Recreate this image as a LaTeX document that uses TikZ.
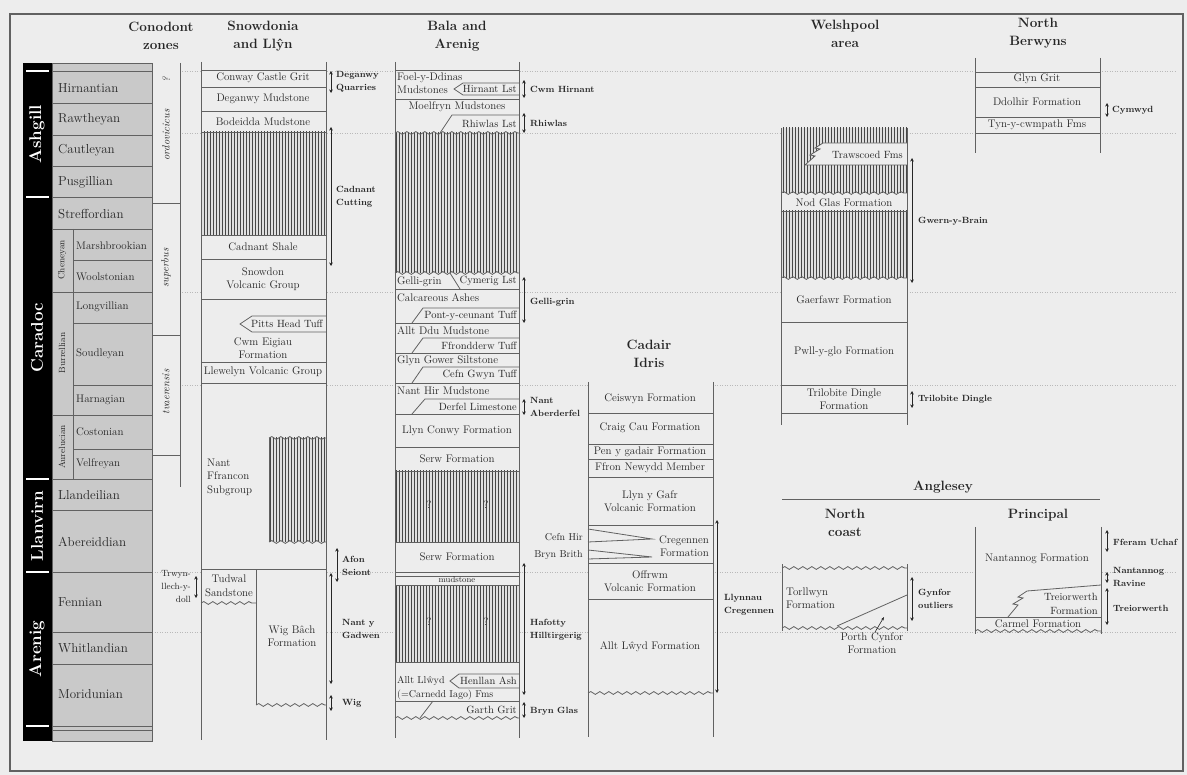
\documentclass[tikz,border=0pt]{standalone}
\usetikzlibrary{arrows.meta,patterns,decorations.pathmorphing}

\definecolor{bg}{gray}{0.93}
\definecolor{ink}{gray}{0.15}
\definecolor{rule}{gray}{0.38}
\definecolor{stagefill}{gray}{0.79}

\tikzset{
	col/.style={draw=rule, line width=0.8pt},
	hatch/.style={preaction={fill=gray!25}, pattern=vertical lines, pattern color=gray!55!black},
	wavy/.style={draw=rule, line width=0.8pt, decorate, decoration={snake, amplitude=1.4pt, segment length=9pt}},
	guide/.style={draw=gray!55, line width=0.5pt, dash pattern=on 1pt off 1.5pt},
	spanbar/.style={draw=ink, line width=0.7pt, arrows={Stealth[length=3.5pt,width=3.5pt]-Stealth[length=3.5pt,width=3.5pt]}},
	fm/.style={font=\fontsize{11}{13.5}\selectfont, text=ink, inner sep=0pt, align=center},
	lfm/.style={fm, anchor=west, align=left},
	rfm/.style={fm, anchor=east, align=right},
	wedge/.style={rfm, font=\fontsize{10.5}{12}\selectfont},
	stage/.style={font=\fontsize{13}{14}\selectfont, text=ink, inner sep=0pt, anchor=west},
	substage/.style={stage, font=\fontsize{11}{12}\selectfont},
	series/.style={font=\fontsize{17}{17}\selectfont\bfseries, text=white, rotate=90, inner sep=0pt},
	subseries/.style={font=\fontsize{9}{10}\selectfont, text=ink, rotate=90, inner sep=0pt},
	zone/.style={font=\fontsize{10.5}{12}\selectfont\itshape, text=ink, rotate=90, inner sep=0pt},
	head/.style={font=\fontsize{13.5}{18}\selectfont\bfseries, text=ink, align=center, inner sep=0pt},
	site/.style={font=\fontsize{9}{13}\selectfont\bfseries, text=ink, anchor=west, align=left, inner sep=0pt},
	side/.style={font=\fontsize{10}{13}\selectfont, text=ink, anchor=east, align=right, inner sep=0pt},
}

\begin{document}
\begin{tikzpicture}[x=1pt, y=-1pt]
	\useasboundingbox (0,0) rectangle (1187,775);
	% Background and frame
	\fill[bg] (0,0) rectangle (1187,775);
	\draw[rule, line width=1.6pt] (10,14) rectangle (1183,771);

	% Dotted guide lines
	\foreach \y in {71,133,292,385,572,632}
		\draw[guide] (152,\y) -- (1177,\y);

	% Column headings
	\node[head] (conhead)  at (161,36)  {Conodont\\zones};
	\node[head] (snowhead) at (263,36)  {Snowdonia\\and Ll\^yn};
	\node[head] (balahead) at (457,36)  {Bala and\\Arenig};
	\node[head] (welshead) at (845,34)  {Welshpool\\area};
	\node[head] (berwhead) at (1038,33) {North\\Berwyns};
	\node[head] (cadhead)  at (649,354) {Cadair\\Idris};

	% Series and stages
	\fill[black] (23,63) rectangle (52,741);
	\fill[stagefill] (52,63) rectangle (152,741);
	\draw[col] (52,63) rectangle (152,741);
	\foreach \y in {71,103,135,166,197,229,292,415,479,510,572,632,664,726,730}
		\draw[col] (52,\y) -- (152,\y);
	\foreach \y in {260,323,385,449}
		\draw[col] (73,\y) -- (152,\y);
	\draw[col] (73,229) -- (73,479);
	\foreach \y in {71,197,479,572,726}
		\draw[white, line width=1.2pt] (26,\y) -- (49,\y);
	\node[series] (ashgill)  at (37,134) {Ashgill};
	\node[series] (caradoc)  at (37,338) {Caradoc};
	\node[series] (llanvirn) at (37,526) {Llanvirn};
	\node[series] (arenig)   at (37,649) {Arenig};
	\node[subseries] (cheneyan)   at (62,260) {Cheneyan};
	\node[subseries] (burrellian) at (62,353) {Burrellian};
	\node[subseries] (aurelucian) at (62,447) {Aurelucian};
	\node[stage]    (hirnantian)    at (58,88)  {Hirnantian};
	\node[stage]    (rawtheyan)     at (58,119) {Rawtheyan};
	\node[stage]    (cautleyan)     at (58,150) {Cautleyan};
	\node[stage]    (pusgillian)    at (58,182) {Pusgillian};
	\node[stage]    (streffordian)  at (58,214) {Streffordian};
	\node[substage] (marshbrookian) at (76,246) {Marshbrookian};
	\node[substage] (woolstonian)   at (76,277) {Woolstonian};
	\node[substage] (longvillian)   at (76,307) {Longvillian};
	\node[substage] (soudleyan)     at (76,354) {Soudleyan};
	\node[substage] (harnagian)     at (76,400) {Harnagian};
	\node[substage] (costonian)     at (76,432) {Costonian};
	\node[substage] (velfreyan)     at (76,464) {Velfreyan};
	\node[stage]    (llandeilian)   at (58,495) {Llandeilian};
	\node[stage]    (abereiddian)   at (58,542) {Abereiddian};
	\node[stage]    (fennian)       at (58,602) {Fennian};
	\node[stage]    (whitlandian)   at (58,648) {Whitlandian};
	\node[stage]    (moridunian)    at (58,694) {Moridunian};

	% Conodont zones
	\fill[bg] (153,63) rectangle (180,487);
	\draw[col] (180,63) -- (180,487);
	\foreach \y in {203,335,455}
		\draw[col] (152,\y) -- (180,\y);
	\node[zone] (zonequery)   at (166,80)  {?};
	\node[zone] (ordovicicus) at (166,135) {ordovicicus};
	\node[zone] (superbus)    at (166,268) {superbus};
	\node[zone] (tvaerensis)  at (166,392) {tvaerensis};

	% Snowdonia and Llyn
	\fill[bg] (201,62) rectangle (326,740);
	\fill[hatch] (201,132) rectangle (326,235);
	\fill[hatch] (269,438) rectangle (326,542);
	\draw[col] (201,62) -- (201,740);
	\draw[col] (326,62) -- (326,740);
	\foreach \y in {70,87,111,132,235,259,299,362,383,569}
		\draw[col] (201,\y) -- (326,\y);
	\draw[col] (326,316) -- (252,316) -- (240,324) -- (252,332) -- (326,332);
	\draw[col] (269,438) -- (269,542);
	\draw[wavy] (269,438) -- (326,438);
	\draw[wavy] (269,542) -- (326,542);
	\draw[col] (256,569) -- (256,705);
	\draw[wavy] (201,603) -- (256,603);
	\draw[wavy] (256,705) -- (326,705);
	\node[fm]    (conwaygrit)  at (263,78)  {Conway Castle Grit};
	\node[fm]    (deganwymud)  at (263,99)  {Deganwy Mudstone};
	\node[fm]    (bodeidda)    at (263,122) {Bodeidda Mudstone};
	\node[fm]    (cadnantsh)   at (263,247) {Cadnant Shale};
	\node[fm]    (snowdonvg)   at (263,279) {Snowdon\\Volcanic Group};
	\node[wedge] (pittshead)   at (323,324) {Pitts Head Tuff};
	\node[fm]    (cwmeigiau)   at (263,348) {Cwm Eigiau\\Formation};
	\node[fm]    (llewelynvg)  at (263,372) {Llewelyn Volcanic Group};
	\node[lfm]   (nantffrancon) at (207,477) {Nant\\Ffrancon\\Subgroup};
	\node[fm]    (tudwal)      at (229,586) {Tudwal\\Sandstone};
	\node[fm]    (wigbach)     at (292,636) {Wig B\^ach\\Formation};
	% Snowdonia localities
	\draw[spanbar] (331,71) -- (331,93);
	\node[site] (deganwyq) at (336,82) {Deganwy\\Quarries};
	\draw[spanbar] (331,127) -- (331,266);
	\node[site] (cadnantcut) at (336,197) {Cadnant\\Cutting};
	\draw[spanbar] (337,548) -- (337,582);
	\node[site] (afonseiont) at (342,566) {Afon\\Seiont};
	\draw[spanbar] (331,573) -- (331,684);
	\node[site] (nantgadwen) at (342,629) {Nant y\\Gadwen};
	\draw[spanbar] (331,695) -- (331,711);
	\node[site] (wig) at (342,703) {Wig};
	\draw[spanbar] (196,576) -- (196,598);
	\node[side, font=\fontsize{9}{13}\selectfont] (trwyn) at (191,587) {Trwyn-\\llech-y-\\doll};

	% Bala and Arenig
	\fill[bg] (395,62) rectangle (519,738);
	\fill[hatch] (395,133) rectangle (519,273);
	\fill[hatch] (395,471) rectangle (519,542);
	\fill[hatch] (395,585) rectangle (519,662);
	\draw[col] (395,62) -- (395,738);
	\draw[col] (519,62) -- (519,738);
	\foreach \y in {70,99,289,323,353,383,414,447,471,542,572,576,585,662,701}
		\draw[col] (395,\y) -- (519,\y);
	\foreach \y in {133,273,718}
		\draw[wavy] (395,\y) -- (519,\y);
	\draw[col] (519,83) -- (463,83) -- (454,89) -- (463,95) -- (519,95);
	\draw[col] (440,133) -- (452,115) -- (519,115);
	\draw[col] (450,273) -- (460,289);
	\draw[col] (412,323) -- (423,308) -- (519,308);
	\draw[col] (412,353) -- (423,338) -- (519,338);
	\draw[col] (412,383) -- (423,367) -- (519,367);
	\draw[col] (412,414) -- (425,399) -- (519,399);
	\draw[col] (519,674) -- (459,674) -- (450,681) -- (459,688) -- (519,688);
	\draw[col] (420,718) -- (433,701);
	\node[lfm]   (foelddinas) at (397,83)  {Foel-y-Ddinas\\Mudstones};
	\node[wedge] (hirnantlst) at (517,89)  {Hirnant Lst};
	\node[fm]    (moelfryn)   at (457,107) {Moelfryn Mudstones};
	\node[wedge] (rhiwlaslst) at (517,124) {Rhiwlas Lst};
	\node[lfm]   (gelligrinfm) at (397,282) {Gelli-grin};
	\node[wedge] (cymeriglst) at (517,281) {Cymerig Lst};
	\node[lfm]   (calcashes)  at (397,298) {Calcareous Ashes};
	\node[wedge] (pontceunant) at (517,316) {Pont-y-ceunant Tuff};
	\node[lfm]   (alltddu)    at (397,331) {Allt Ddu Mudstone};
	\node[wedge] (ffrondderw) at (517,346) {Ffrondderw Tuff};
	\node[lfm]   (glyngower)  at (397,361) {Glyn Gower Siltstone};
	\node[wedge] (cefngwyn)   at (517,375) {Cefn Gwyn Tuff};
	\node[lfm]   (nanthir)    at (397,391) {Nant Hir Mudstone};
	\node[wedge] (derfel)     at (517,407) {Derfel Limestone};
	\node[fm]    (llynconwy)  at (457,431) {Llyn Conwy Formation};
	\node[fm]    (serwupper)  at (457,459) {Serw Formation};
	\node[fm]    (queryA)     at (429,505) {?};
	\node[fm]    (queryB)     at (486,505) {?};
	\node[fm]    (serwlower)  at (457,557) {Serw Formation};
	\node[fm, font=\fontsize{8.5}{10}\selectfont] (mudstone) at (457,580) {mudstone};
	\node[fm]    (queryC)     at (429,622) {?};
	\node[fm]    (queryD)     at (486,622) {?};
	\node[lfm, font=\fontsize{10}{13.5}\selectfont] (alltllwyd) at (397,688) {Allt Ll\^wyd\\(=Carnedd Iago) Fms};
	\node[wedge] (henllan)    at (517,681) {Henllan Ash};
	\node[wedge] (garthgrit)  at (517,710) {Garth Grit};
	% Bala localities
	\draw[spanbar] (524,80) -- (524,98);
	\node[site] (cwmhirnant) at (530,89) {Cwm Hirnant};
	\draw[spanbar] (524,113) -- (524,133);
	\node[site] (rhiwlas) at (530,123) {Rhiwlas};
	\draw[spanbar] (524,277) -- (524,323);
	\node[site] (gelligrin) at (530,302) {Gelli-grin};
	\draw[spanbar] (524,399) -- (524,415);
	\node[site] (aberderfel) at (530,407) {Nant\\Aberderfel};
	\draw[spanbar] (524,563) -- (524,695);
	\node[site] (hafotty) at (530,630) {Hafotty\\Hilltirgerig};
	\draw[spanbar] (524,702) -- (524,718);
	\node[site] (brynglas) at (530,711) {Bryn Glas};

	% Cadair Idris
	\fill[bg] (588,382) rectangle (713,737);
	\draw[col] (588,382) -- (588,737);
	\draw[col] (713,382) -- (713,737);
	\foreach \y in {413,444,459,477,525,563,599}
		\draw[col] (588,\y) -- (713,\y);
	\draw[wavy] (588,693) -- (713,693);
	\draw[col] (588,529) -- (652,539) -- (588,542);
	\draw[col] (588,550) -- (652,557) -- (588,559);
	\node[fm]  (ceiswyn)   at (650,399) {Ceiswyn Formation};
	\node[fm]  (craigcau)  at (650,428) {Craig Cau Formation};
	\node[fm]  (penygadair) at (650,452) {Pen y gadair Formation};
	\node[fm]  (ffronnewydd) at (650,468) {Ffron Newydd Member};
	\node[fm]  (llynygafr) at (650,501) {Llyn y Gafr\\Volcanic Formation};
	\node[rfm] (cregennen) at (709,546) {Cregennen\\Formation};
	\node[fm]  (offrwm)    at (650,581) {Offrwm\\Volcanic Formation};
	\node[fm]  (alltlwyd)  at (650,647) {Allt L\^wyd Formation};
	\node[side] (cefnhir)   at (583,537) {Cefn Hir};
	\node[side] (brynbrith) at (583,555) {Bryn Brith};
	\draw[spanbar] (717,520) -- (717,693);
	\node[site] (llynnau) at (724,605) {Llynnau\\Cregennen};

	% Welshpool area
	\fill[bg] (781,128) rectangle (907,425);
	\fill[hatch] (781,128) rectangle (907,193);
	\fill[hatch] (781,211) rectangle (907,278);
	\fill[bg] (907,143) -- (823,143) -- (815,148) -- (820,149) -- (810,155) -- (815,156) -- (805,165) -- (907,165) -- cycle;
	\draw[col] (907,143) -- (823,143) -- (815,148) -- (820,149) -- (810,155) -- (815,156) -- (805,165) -- (907,165);
	\draw[col] (781,128) -- (781,425);
	\draw[col] (907,128) -- (907,425);
	\draw[wavy] (781,193) -- (907,193);
	\draw[wavy] (781,278) -- (907,278);
	\foreach \y in {211,322,385,413}
		\draw[col] (781,\y) -- (907,\y);
	\node[wedge] (trawscoed) at (903,155) {Trawscoed Fms};
	\node[fm]    (nodglas)   at (844,203) {Nod Glas Formation};
	\node[fm]    (gaerfawr)  at (844,300) {Gaerfawr Formation};
	\node[fm]    (pwllyglo)  at (844,352) {Pwll-y-glo Formation};
	\node[fm]    (trilobitefm) at (844,399) {Trilobite Dingle\\Formation};
	\draw[spanbar] (912,158) -- (912,283);
	\node[site] (gwernybrain) at (918,221) {Gwern-y-Brain};
	\draw[spanbar] (912,391) -- (912,408);
	\node[site] (trilobite) at (918,399) {Trilobite Dingle};

	% North Berwyns
	\fill[bg] (975,58) rectangle (1100,153);
	\draw[col] (975,58) -- (975,153);
	\draw[col] (1100,58) -- (1100,153);
	\foreach \y in {72,87,117,133}
		\draw[col] (975,\y) -- (1100,\y);
	\node[fm] (glyngrit) at (1037,79)  {Glyn Grit};
	\node[fm] (ddolhir)  at (1037,102) {Ddolhir Formation};
	\node[fm] (tynycwmpath) at (1037,125) {Tyn-y-cwmpath Fms};
	\draw[spanbar] (1107,103) -- (1107,117);
	\node[site] (cymwyd) at (1112,110) {Cymwyd};

	% Anglesey
	\node[head] (anglhead) at (943,487) {Anglesey};
	\draw[col] (782,499) -- (1100,499);
	\node[head] (ncoast) at (845,523) {North\\coast};
	\node[head] (parea)  at (1038,523) {Principal\\area};
	% North coast
	\fill[bg] (782,568) rectangle (907,628);
	\draw[col] (782,564) -- (782,631);
	\draw[col] (907,564) -- (907,631);
	\draw[wavy] (782,568) -- (907,568);
	\draw[wavy] (782,628) -- (907,628);
	\draw[col] (837,626) -- (907,595);
	\node[lfm] (torllwyn) at (786,598) {Torllwyn\\Formation};
	\node[fm]  (porthcynfor) at (872,643) {Porth Cynfor\\Formation};
	\draw[-{Stealth[length=3.5pt]}, ink, line width=0.6pt] ([xshift=3pt]porthcynfor.north) -- (884,617);
	\draw[spanbar] (912,577) -- (912,621);
	\node[site] (gynfor) at (918,599) {Gynfor\\outliers};
	% Principal area
	\fill[bg] (975,527) rectangle (1101,631);
	\draw[col] (975,527) -- (975,634);
	\draw[col] (1101,527) -- (1101,634);
	\draw[col] (1101,585) -- (1027,591) -- (1018,597) -- (1023,598) -- (1013,604) -- (1018,605) -- (1008,617);
	\draw[col] (975,617) -- (1101,617);
	\draw[wavy] (975,631) -- (1101,631);
	\node[fm]    (nantannogfm) at (1037,559) {Nantannog Formation};
	\node[wedge, font=\fontsize{10.5}{14}\selectfont] (treiorwerthfm) at (1098,604) {Treiorwerth\\Formation};
	\node[fm]    (carmel) at (1038,624) {Carmel Formation};
	\draw[spanbar] (1107,530) -- (1107,552);
	\node[site] (fferam) at (1113,542) {Fferam Uchaf};
	\draw[spanbar] (1107,572) -- (1107,583);
	\node[site] (nantannog) at (1113,577) {Nantannog\\Ravine};
	\draw[spanbar] (1107,588) -- (1107,625);
	\node[site] (treiorwerth) at (1113,608) {Treiorwerth};
\end{tikzpicture}
\end{document}
